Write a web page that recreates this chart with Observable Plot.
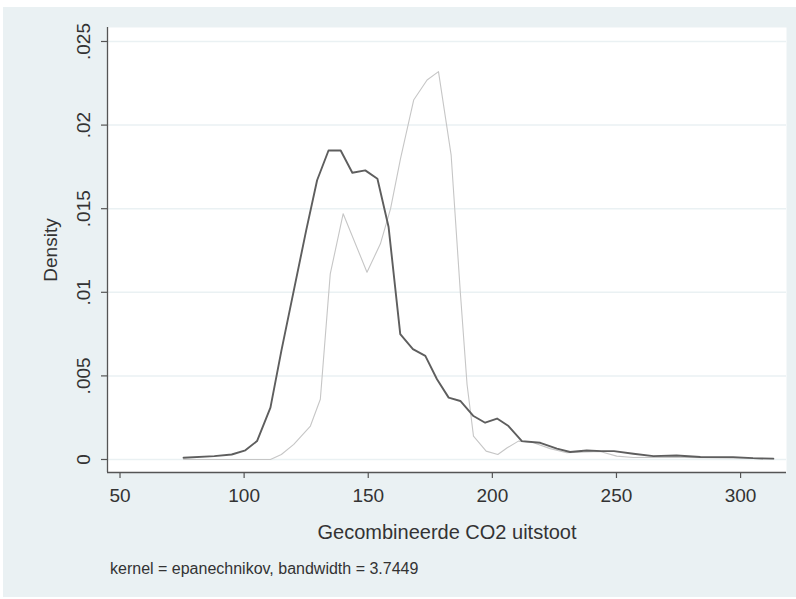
<!DOCTYPE html>
<html>
<head>
<meta charset="utf-8">
<script src="https://cdn.jsdelivr.net/npm/d3@7"></script>
<script src="https://cdn.jsdelivr.net/npm/@observablehq/plot@0.6"></script>
<style>
  html, body { margin: 0; padding: 0; background: #ffffff; }
  #wrap { position: absolute; left: 3px; top: 7px; width: 793px; height: 590px; background: #eaf1f3; font-family: "Liberation Sans", Arial, sans-serif; }
  #wrap svg { display: block; background: transparent; }
  #caption { position: absolute; left: 107px; top: 553px; font-size: 16px; color: #333; white-space: nowrap; }
</style>
</head>
<body>
<div id="wrap"><div id="chart"></div><div id="caption"></div></div>
<script>
// Dark (thick) density curve
const darkX = [75.6, 88, 95, 100.5, 105.2, 110.6, 115, 120, 125, 129.4, 134, 138.9, 143.6, 148.8, 153.7, 158.2, 162.9, 168, 173, 177.7, 182.4, 187.1, 192.4, 197.1, 201.9, 206.5, 211.9, 219.3, 226, 231.3, 238, 244, 249, 256.8, 264.9, 274.2, 283.8, 297, 305, 313.2];
const darkY = [0.0001, 0.0002, 0.0003, 0.00055, 0.0011, 0.0031, 0.0065, 0.0101, 0.0137, 0.0167, 0.01848, 0.01848, 0.01715, 0.01729, 0.01679, 0.0139, 0.0075, 0.0066, 0.0062, 0.0048, 0.0037, 0.0035, 0.0026, 0.0022, 0.00245, 0.002, 0.0011, 0.001, 0.00065, 0.00045, 0.00054, 0.0005, 0.0005, 0.00034, 0.0002, 0.00024, 0.00015, 0.00014, 0.00008, 0.00005];

// Light (thin) density curve
const lightX = [75.6, 110.6, 115, 120, 126.7, 130.7, 134.7, 139.9, 149.5, 154.9, 159, 163, 168.3, 173.7, 178.3, 183.4, 187.1, 189.8, 192.4, 197.5, 202.2, 206, 210.5, 216.6, 223.3, 230, 243.4, 250.1, 256.8, 270.2, 285, 300, 313.2];
const lightY = [0, 0, 0.0003, 0.0009, 0.002, 0.0036, 0.0111, 0.0147, 0.0112, 0.0129, 0.015, 0.018, 0.0215, 0.0227, 0.0232, 0.0182, 0.01, 0.0045, 0.0014, 0.0005, 0.0003, 0.0007, 0.0011, 0.001, 0.00065, 0.0004, 0.00048, 0.0002, 0.00012, 0.00014, 0.0001, 0.00008, 0.00004];

const xTicks = [50, 100, 150, 200, 250, 300];
const yTicks = [0, 0.005, 0.01, 0.015, 0.02, 0.025];
const yTickLabels = ["0", ".005", ".01", ".015", ".02", ".025"];
const xTitle = "Gecombineerde CO2 uitstoot";
const yTitle = "Density";
const captionText = "kernel = epanechnikov, bandwidth = 3.7449";

const xDomain = [44.96, 318.5];
const yDomain = [-0.000778, 0.025837];

const dark = darkX.map((x, i) => ({x, y: darkY[i]}));
const light = lightX.map((x, i) => ({x, y: lightY[i]}));
const yLab = yTicks.map((v, i) => ({v, label: yTickLabels[i]}));

const axisColor = "#555555";
const textColor = "#333333";

const chart = Plot.plot({
  width: 793,
  height: 545,
  marginLeft: 104,
  marginRight: 10,
  marginTop: 20,
  marginBottom: 80,
  style: {fontFamily: "'Liberation Sans', Arial, sans-serif", background: "transparent", color: textColor},
  x: {domain: xDomain, axis: null},
  y: {domain: yDomain, axis: null},
  marks: [
    Plot.frame({fill: "#ffffff", stroke: null}),
    Plot.ruleY(yTicks, {y: d => d, stroke: "#eaf1f3", strokeWidth: 1.5}),
    Plot.line(light, {x: "x", y: "y", stroke: "#c6c6c6", strokeWidth: 1.1}),
    Plot.line(dark, {x: "x", y: "y", stroke: "#5e5e5e", strokeWidth: 1.9}),
    // axis lines
    Plot.ruleX([xDomain[0]], {stroke: axisColor, strokeWidth: 1.3}),
    Plot.ruleY([yDomain[0]], {stroke: axisColor, strokeWidth: 1.3}),
    // tick marks
    Plot.ruleY(yTicks, {y: d => d, x1: xDomain[0], x2: xDomain[0], insetLeft: -6, insetRight: 0, stroke: axisColor, strokeWidth: 1.2}),
    Plot.ruleX(xTicks, {x: d => d, y1: yDomain[0], y2: yDomain[0], insetTop: 6, insetBottom: 0, stroke: axisColor, strokeWidth: 1.2}),
    // tick labels
    Plot.text(xTicks, {x: d => d, frameAnchor: "bottom", dy: 23, lineAnchor: "middle", text: d => String(d), fontSize: 19, fill: textColor}),
    Plot.text(yLab, {y: "v", frameAnchor: "left", dx: -24, rotate: -90, textAnchor: "middle", lineAnchor: "middle", text: "label", fontSize: 19, fill: textColor}),
    // axis titles
    Plot.text([xTitle], {frameAnchor: "bottom", dy: 60, lineAnchor: "middle", text: d => d, fontSize: 20, fill: textColor}),
    Plot.text([yTitle], {frameAnchor: "left", dx: -57, rotate: -90, textAnchor: "middle", lineAnchor: "middle", text: d => d, fontSize: 19, fill: textColor})
  ]
});
document.getElementById("chart").appendChild(chart);
document.getElementById("caption").textContent = captionText;
</script>
</body>
</html>
